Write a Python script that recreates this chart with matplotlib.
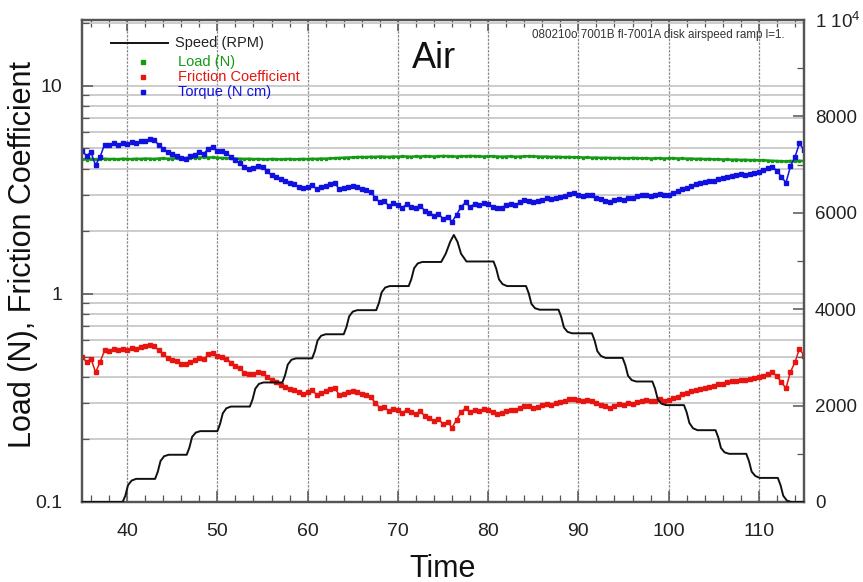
import numpy as np
import matplotlib
matplotlib.use("Agg")
import matplotlib.pyplot as plt
from matplotlib.ticker import FixedLocator, NullFormatter, LogLocator, MultipleLocator
from matplotlib.lines import Line2D

plt.rcParams['font.family'] = ['Liberation Sans', 'DejaVu Sans']
plt.rcParams['mathtext.fontset'] = 'custom'
plt.rcParams['mathtext.rm'] = 'Liberation Sans'
plt.rcParams['mathtext.it'] = 'Liberation Sans:italic'

# ---------------- data ----------------
# sample times (s): every 0.5 s from 35 to 115
time = np.linspace(35.0, 115.0, 161)

torque = [
    4.85, 4.62, 4.78, 4.15, 4.55, 5.22, 5.18, 5.28, 5.22, 5.30,
    5.26, 5.36, 5.31, 5.42, 5.45, 5.52, 5.48, 5.20, 4.98, 4.80,
    4.70, 4.62, 4.48, 4.45, 4.58, 4.66, 4.80, 4.72, 4.98, 5.10,
    4.88, 4.85, 4.75, 4.55, 4.38, 4.25, 4.05, 3.98, 4.02, 4.10,
    4.06, 3.88, 3.72, 3.65, 3.55, 3.48, 3.40, 3.36, 3.28, 3.22,
    3.26, 3.35, 3.18, 3.25, 3.30, 3.38, 3.42, 3.18, 3.22, 3.26,
    3.30, 3.28, 3.20, 3.15, 3.08, 2.90, 2.75, 2.78, 2.65, 2.72,
    2.68, 2.60, 2.70, 2.62, 2.58, 2.65, 2.50, 2.45, 2.38, 2.42,
    2.30, 2.35, 2.22, 2.40, 2.62, 2.75, 2.62, 2.70, 2.66, 2.72,
    2.70, 2.62, 2.58, 2.60, 2.66, 2.70, 2.68, 2.75, 2.82, 2.80,
    2.76, 2.78, 2.84, 2.88, 2.85, 2.90, 2.92, 2.96, 3.02, 3.05,
    3.00, 2.96, 3.00, 2.98, 2.90, 2.85, 2.80, 2.76, 2.82, 2.86,
    2.84, 2.90, 2.88, 2.94, 2.98, 3.00, 2.96, 2.98, 3.02, 2.98,
    3.00, 3.06, 3.12, 3.20, 3.24, 3.30, 3.36, 3.40, 3.44, 3.48,
    3.50, 3.56, 3.60, 3.65, 3.70, 3.72, 3.76, 3.74, 3.78, 3.82,
    3.85, 3.92, 4.02, 4.08, 3.90, 3.65, 3.42, 4.10, 4.55, 5.30,
    4.90,
]

friction = [
    0.500, 0.470, 0.488, 0.420, 0.470, 0.535, 0.532, 0.542, 0.535, 0.546,
    0.540, 0.550, 0.546, 0.556, 0.560, 0.566, 0.562, 0.535, 0.512, 0.494,
    0.482, 0.474, 0.462, 0.458, 0.470, 0.480, 0.494, 0.486, 0.512, 0.522,
    0.502, 0.498, 0.488, 0.468, 0.450, 0.438, 0.418, 0.410, 0.414, 0.420,
    0.418, 0.400, 0.384, 0.376, 0.366, 0.358, 0.350, 0.346, 0.338, 0.332,
    0.336, 0.344, 0.328, 0.335, 0.340, 0.348, 0.352, 0.328, 0.332, 0.336,
    0.340, 0.338, 0.330, 0.325, 0.318, 0.300, 0.284, 0.287, 0.273, 0.280,
    0.276, 0.268, 0.278, 0.270, 0.266, 0.273, 0.258, 0.252, 0.245, 0.250,
    0.237, 0.242, 0.228, 0.248, 0.270, 0.283, 0.270, 0.278, 0.274, 0.280,
    0.278, 0.270, 0.266, 0.268, 0.274, 0.278, 0.276, 0.283, 0.290, 0.288,
    0.284, 0.286, 0.292, 0.297, 0.294, 0.299, 0.301, 0.305, 0.311, 0.314,
    0.309, 0.305, 0.309, 0.307, 0.299, 0.294, 0.288, 0.284, 0.290, 0.295,
    0.293, 0.299, 0.297, 0.303, 0.307, 0.309, 0.305, 0.307, 0.311, 0.307,
    0.309, 0.315, 0.321, 0.330, 0.334, 0.340, 0.346, 0.350, 0.354, 0.358,
    0.361, 0.367, 0.371, 0.376, 0.381, 0.383, 0.387, 0.385, 0.389, 0.393,
    0.397, 0.404, 0.414, 0.420, 0.402, 0.376, 0.352, 0.422, 0.469, 0.546,
    0.505,
]

load = [
    4.44, 4.42, 4.45, 4.43, 4.44, 4.46, 4.44, 4.45, 4.43, 4.46,
    4.45, 4.44, 4.46, 4.45, 4.47, 4.46, 4.45, 4.47, 4.48, 4.46,
    4.47, 4.48, 4.50, 4.49, 4.51, 4.50, 4.52, 4.53, 4.52, 4.53,
    4.51, 4.50, 4.49, 4.48, 4.47, 4.46, 4.45, 4.46, 4.44, 4.45,
    4.44, 4.43, 4.45, 4.44, 4.43, 4.44, 4.45, 4.43, 4.44, 4.45,
    4.44, 4.46, 4.45, 4.47, 4.46, 4.48, 4.49, 4.50, 4.51, 4.52,
    4.53, 4.54, 4.55, 4.54, 4.56, 4.55, 4.57, 4.56, 4.55, 4.57,
    4.56, 4.58, 4.57, 4.56, 4.58, 4.57, 4.59, 4.58, 4.57, 4.58,
    4.60, 4.59, 4.58, 4.57, 4.59, 4.58, 4.60, 4.59, 4.58, 4.57,
    4.59, 4.58, 4.57, 4.56, 4.57, 4.58, 4.56, 4.57, 4.58, 4.59,
    4.58, 4.57, 4.56, 4.57, 4.55, 4.56, 4.55, 4.54, 4.55, 4.53,
    4.54, 4.52, 4.53, 4.51, 4.52, 4.50, 4.51, 4.50, 4.49, 4.50,
    4.49, 4.48, 4.50, 4.49, 4.48, 4.49, 4.47, 4.48, 4.49, 4.47,
    4.48, 4.49, 4.47, 4.48, 4.46, 4.47, 4.45, 4.46, 4.44, 4.45,
    4.43, 4.44, 4.42, 4.43, 4.41, 4.42, 4.40, 4.41, 4.39, 4.40,
    4.38, 4.39, 4.37, 4.36, 4.35, 4.34, 4.33, 4.35, 4.34, 4.36,
    4.35,
]

speed_t = [
    35.0,
    39.5, 39.8, 40.1, 40.5, 41.0,
    43.1, 43.4, 43.7, 44.1, 44.6,
    46.6, 46.9, 47.2, 47.6, 48.1,
    50.0, 50.3, 50.6, 51.0, 51.5,
    53.6, 53.9, 54.2, 54.6, 55.1,
    57.2, 57.5, 57.8, 58.2, 58.7,
    60.5, 60.8, 61.1, 61.5, 62.0,
    64.0, 64.3, 64.6, 65.0, 65.5,
    67.6, 67.9, 68.2, 68.6, 69.1,
    71.2, 71.5, 71.8, 72.2, 72.7,
    74.8, 75.3, 75.8, 76.2, 76.6, 77.0, 77.6,
    80.6, 80.9, 81.2, 81.6, 82.1,
    84.2, 84.5, 84.8, 85.2, 85.7,
    87.8, 88.1, 88.4, 88.8, 89.3,
    91.5, 91.8, 92.1, 92.5, 93.0,
    94.9, 95.2, 95.5, 95.9, 96.4,
    98.2, 98.5, 98.8, 99.2, 99.7,
    101.7, 102.0, 102.3, 102.7, 103.2,
    105.2, 105.5, 105.8, 106.2, 106.7,
    108.6, 108.9, 109.2, 109.6, 110.1,
    112.1, 112.4, 112.7, 113.1, 113.6,
    115.0,
]
speed_rpm = [
    0,
    0, 130, 350, 445, 480,
    480, 630, 850, 950, 980,
    980, 1130, 1350, 1440, 1470,
    1470, 1620, 1840, 1945, 1980,
    1980, 2130, 2350, 2450, 2480,
    2480, 2630, 2850, 2950, 2980,
    2980, 3130, 3350, 3450, 3480,
    3480, 3630, 3850, 3950, 3980,
    3980, 4130, 4350, 4450, 4480,
    4480, 4630, 4850, 4950, 4980,
    4980, 5150, 5400, 5540, 5400, 5150, 4990,
    4990, 4840, 4620, 4520, 4480,
    4480, 4330, 4110, 4020, 3990,
    3990, 3840, 3620, 3530, 3500,
    3500, 3350, 3130, 3030, 2990,
    2990, 2840, 2620, 2530, 2500,
    2500, 2350, 2130, 2040, 2010,
    2010, 1860, 1640, 1530, 1490,
    1490, 1340, 1120, 1030, 1000,
    1000, 850, 630, 540, 500,
    500, 350, 130, 30, 0,
    0,
]

x_ticks = [40, 50, 60, 70, 80, 90, 100, 110]
left_ticks = [0.1, 1, 10]
left_ticklabels = ['0.1', '1', '10']
right_ticks = [0, 2000, 4000, 6000, 8000, 10000]
right_ticklabels = ['0', '2000', '4000', '6000', '8000', '1 10$^{4}$']

# ---------------- figure ----------------
W, H = 863, 582
fig = plt.figure(figsize=(W / 100, H / 100), dpi=100)
L, R, T, B = 82, 804, 20, 502
ax = fig.add_axes([L / W, (H - B) / H, (R - L) / W, (B - T) / H])

GREEN = '#159a15'
RED = '#e8140f'
BLUE = '#1010e0'

ax.set_yscale('log')
ax.set_xlim(35, 115)
ax.set_ylim(0.1, 20.7)
ax.set_axisbelow(True)

# grids
ax.yaxis.set_minor_locator(LogLocator(base=10, subs=np.arange(2, 10)))
ax.yaxis.set_minor_formatter(NullFormatter())
ax.grid(True, which='both', axis='y', color='#c8c8c8', lw=1.3)
ax.xaxis.set_major_locator(FixedLocator(x_ticks))
ax.xaxis.set_minor_locator(MultipleLocator(2))
ax.grid(True, which='major', axis='x', color='#8a8a8a', lw=0.9, ls=(0, (2, 1)))

ax.plot(time, load, color=GREEN, lw=1.8, marker='s', ms=2.0, mec=GREEN, mfc=GREEN, zorder=3)
ax.plot(time, torque, color=BLUE, lw=1.1, marker='s', ms=3.2, mec=BLUE, mfc=BLUE, zorder=3)
ax.plot(time, friction, color=RED, lw=1.1, marker='s', ms=3.2, mec=RED, mfc=RED, zorder=3)

ax.set_yticks(left_ticks)
ax.set_yticklabels(left_ticklabels)
ax.set_xticklabels([str(v) for v in x_ticks])

ax.tick_params(axis='both', which='major', direction='in', length=8, width=1.1,
               labelsize=14, colors='#555555', labelcolor='#222222', top=True)
ax.tick_params(axis='x', which='major', pad=15)
ax.tick_params(axis='y', which='major', pad=14)
ax.tick_params(axis='both', which='minor', direction='in', length=5, width=0.9,
               colors='#555555', top=True)
for s in ax.spines.values():
    s.set_color('#555555')
    s.set_linewidth(1.6)

ax.set_xlabel('Time', fontsize=22, labelpad=10, color='#111111')

ax2 = ax.twinx()
ax2.set_ylim(0, 10000)
ax2.plot(speed_t, speed_rpm, color='#111111', lw=1.4, zorder=4)
ax2.set_yticks(right_ticks)
ax2.set_yticklabels(right_ticklabels)
ax2.yaxis.set_minor_locator(MultipleLocator(1000))
ax2.tick_params(axis='y', which='major', direction='in', length=8, width=1.1,
                labelsize=13.5, colors='#555555', labelcolor='#222222', pad=8)
ax2.tick_params(axis='y', which='minor', direction='in', length=5, width=0.9, colors='#555555')
for s in ax2.spines.values():
    s.set_color('#555555')
    s.set_linewidth(1.6)

# y label placed explicitly
fig.text(23 / W, 1 - 255 / H, 'Load (N), Friction Coefficient', fontsize=22, rotation=90,
         ha='center', va='center', color='#111111')

# title-like label inside plot
fig.text(434 / W, 1 - 58 / H, 'Air', fontsize=26, ha='center', va='center', color='#111111')
fig.text(785 / W, 1 - 35 / H, '080210o 7001B fl-7001A disk airspeed ramp l=1.',
         fontsize=8.4, ha='right', va='center', color='#333333')

# legend (manual)
fig.add_artist(Line2D([111 / W, 168 / W], [1 - 43 / H, 1 - 43 / H], color='#111111', lw=1.4,
                      transform=fig.transFigure))
fig.text(175 / W, 1 - 43 / H, 'Speed (RPM)', fontsize=10.5, va='center', color='#222222')
for yy, col, lab in [(62, GREEN, 'Load (N)'), (77, RED, 'Friction Coefficient'),
                     (92, BLUE, 'Torque (N cm)')]:
    fig.add_artist(Line2D([143 / W], [1 - yy / H], marker='s', ms=2.6, color=col, ls='none',
                          transform=fig.transFigure))
    fig.text(178 / W, 1 - yy / H, lab, fontsize=10.5, va='center', color=col)

fig.savefig('out.png', dpi=100)
